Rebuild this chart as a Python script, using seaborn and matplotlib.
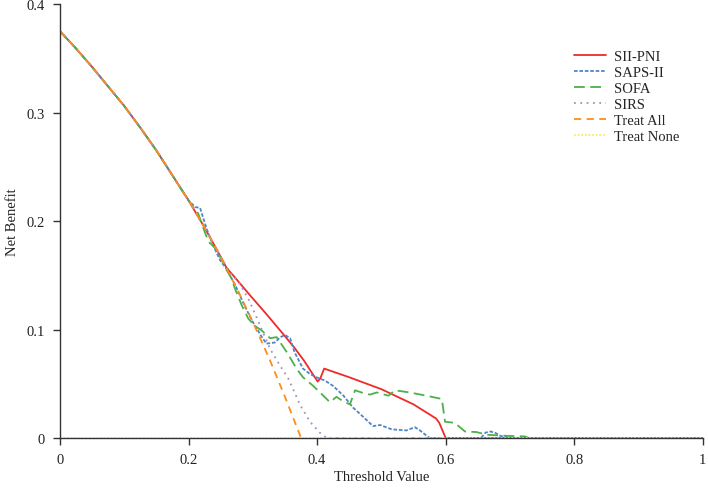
import numpy as np
import matplotlib
matplotlib.use("Agg")
import matplotlib.pyplot as plt
import seaborn as sns
from matplotlib.ticker import FuncFormatter

# threshold / net benefit values
t_all = [0, 0.025, 0.05, 0.075, 0.1, 0.125, 0.15, 0.175, 0.2, 0.225, 0.25,
         0.275, 0.3, 0.325, 0.35, 0.375]
nb_all = [0.375, 0.359, 0.342, 0.324, 0.306, 0.286, 0.265, 0.242, 0.219, 0.194,
          0.167, 0.138, 0.107, 0.074, 0.038, 0.0]

t_none = [0, 1]
nb_none = [0, 0]

t_sii = t_all[:11] + [0.259, 0.275, 0.295, 0.32, 0.347, 0.365, 0.38, 0.392, 0.401,
                      0.405, 0.411, 0.45, 0.5, 0.55, 0.585, 0.59, 0.6, 1.0]
nb_sii = nb_all[:11] + [0.157, 0.146, 0.132, 0.115, 0.096, 0.083, 0.071, 0.060, 0.052,
                        0.055, 0.064, 0.056, 0.045, 0.031, 0.018, 0.014, 0.0, 0.0]

t_saps = t_all[:9] + [0.21, 0.218, 0.228, 0.238, 0.249, 0.26, 0.275, 0.287, 0.30, 0.312,
                      0.321, 0.334, 0.343, 0.35, 0.358, 0.365, 0.378, 0.389, 0.399,
                      0.412, 0.425, 0.441, 0.456, 0.469, 0.487, 0.498, 0.516, 0.539,
                      0.552, 0.56, 0.575, 0.655, 0.662, 0.67, 0.678, 0.685, 0.70, 1.0]
nb_saps = nb_all[:9] + [0.213, 0.212, 0.193, 0.178, 0.164, 0.155, 0.138, 0.122, 0.107, 0.095,
                        0.087, 0.088, 0.093, 0.095, 0.092, 0.079, 0.064, 0.059, 0.056,
                        0.053, 0.048, 0.039, 0.028, 0.021, 0.011, 0.012, 0.008, 0.007,
                        0.010, 0.007, 0.0, 0.0, 0.005, 0.006, 0.0045, 0.002, 0.0, 0.0]

t_sofa = t_all[:9] + [0.208, 0.215, 0.222, 0.231, 0.24, 0.25, 0.258, 0.267, 0.272, 0.283,
                      0.293, 0.304, 0.314, 0.327, 0.337, 0.345, 0.353, 0.368, 0.378,
                      0.394, 0.408, 0.42, 0.43, 0.44, 0.451, 0.459, 0.469, 0.482, 0.493,
                      0.511, 0.521, 0.544, 0.57, 0.594, 0.599, 0.614, 0.63, 0.648,
                      0.664, 0.695, 0.723, 0.73, 1.0]
nb_sofa = nb_all[:9] + [0.212, 0.207, 0.195, 0.181, 0.176, 0.166, 0.156, 0.147, 0.138, 0.122,
                        0.110, 0.103, 0.099, 0.092, 0.093, 0.086, 0.079, 0.064, 0.056,
                        0.048, 0.040, 0.033, 0.038, 0.034, 0.031, 0.044, 0.042, 0.040, 0.042,
                        0.039, 0.044, 0.042, 0.039, 0.036, 0.015, 0.014, 0.006, 0.0055,
                        0.003, 0.002, 0.0015, 0.0, 0.0]

t_sirs = t_all[:11] + [0.264, 0.28, 0.295, 0.311, 0.327, 0.342, 0.355, 0.365, 0.373,
                       0.389, 0.404, 0.415, 1.0]
nb_sirs = nb_all[:11] + [0.153, 0.142, 0.126, 0.104, 0.082, 0.067, 0.055, 0.042, 0.031,
                         0.015, 0.005, 0.0, 0.0]

sns.set_style("ticks")
plt.rcParams["font.family"] = ["Liberation Serif", "DejaVu Serif"]

fig = plt.figure(figsize=(7.08, 4.89), dpi=100)
ax = fig.add_axes([0.0847, 0.1022, 0.908, 0.8875])

lw = 1.3
sns.lineplot(x=t_sii, y=nb_sii, ax=ax, color="#ee2a2a", lw=lw, label="SII-PNI")
sns.lineplot(x=t_saps, y=nb_saps, ax=ax, color="#4f86c6", lw=lw,
             linestyle=(0, (2, 1)), label="SAPS-II")
sns.lineplot(x=t_sofa, y=nb_sofa, ax=ax, color="#4cb04c", lw=lw,
             linestyle=(0, (6, 3)), label="SOFA")
sns.lineplot(x=t_sirs, y=nb_sirs, ax=ax, color="#a092b8", lw=lw,
             linestyle=(0, (1, 2.5)), label="SIRS")
sns.lineplot(x=t_all, y=nb_all, ax=ax, color="#ff8c1a", lw=lw,
             linestyle=(0, (4, 3)), label="Treat All")
sns.lineplot(x=t_none, y=nb_none, ax=ax, color="#f4f060", lw=lw,
             linestyle=(0, (1, 1)), label="Treat None", clip_on=False)

ax.set_xlim(0, 1)
ax.set_ylim(0, 0.4)
ax.set_xticks([0, 0.2, 0.4, 0.6, 0.8, 1.0])
ax.set_yticks([0, 0.1, 0.2, 0.3, 0.4])
fmt = FuncFormatter(lambda v, p: "%g" % round(v, 2))
ax.xaxis.set_major_formatter(fmt)
ax.yaxis.set_major_formatter(fmt)
ax.tick_params(labelsize=10.5, colors="#333333", length=5, width=1, pad=6)
ax.tick_params(axis="both", labelcolor="#222222")
ax.set_xlabel("Threshold Value", fontsize=10.5, color="#222222", labelpad=3)
ax.set_ylabel("Net Benefit", fontsize=10.5, color="#222222", labelpad=5)
for side in ["left", "bottom"]:
    ax.spines[side].set_color("#333333")
    ax.spines[side].set_linewidth(1)
sns.despine(ax=ax)

ax.legend(loc="upper left", bbox_to_anchor=(0.80, 0.895), frameon=False,
          fontsize=10.5, handlelength=2.2, handletextpad=0.5, labelspacing=0.2,
          borderpad=0, borderaxespad=0)

fig.savefig("out.png", dpi=100)
